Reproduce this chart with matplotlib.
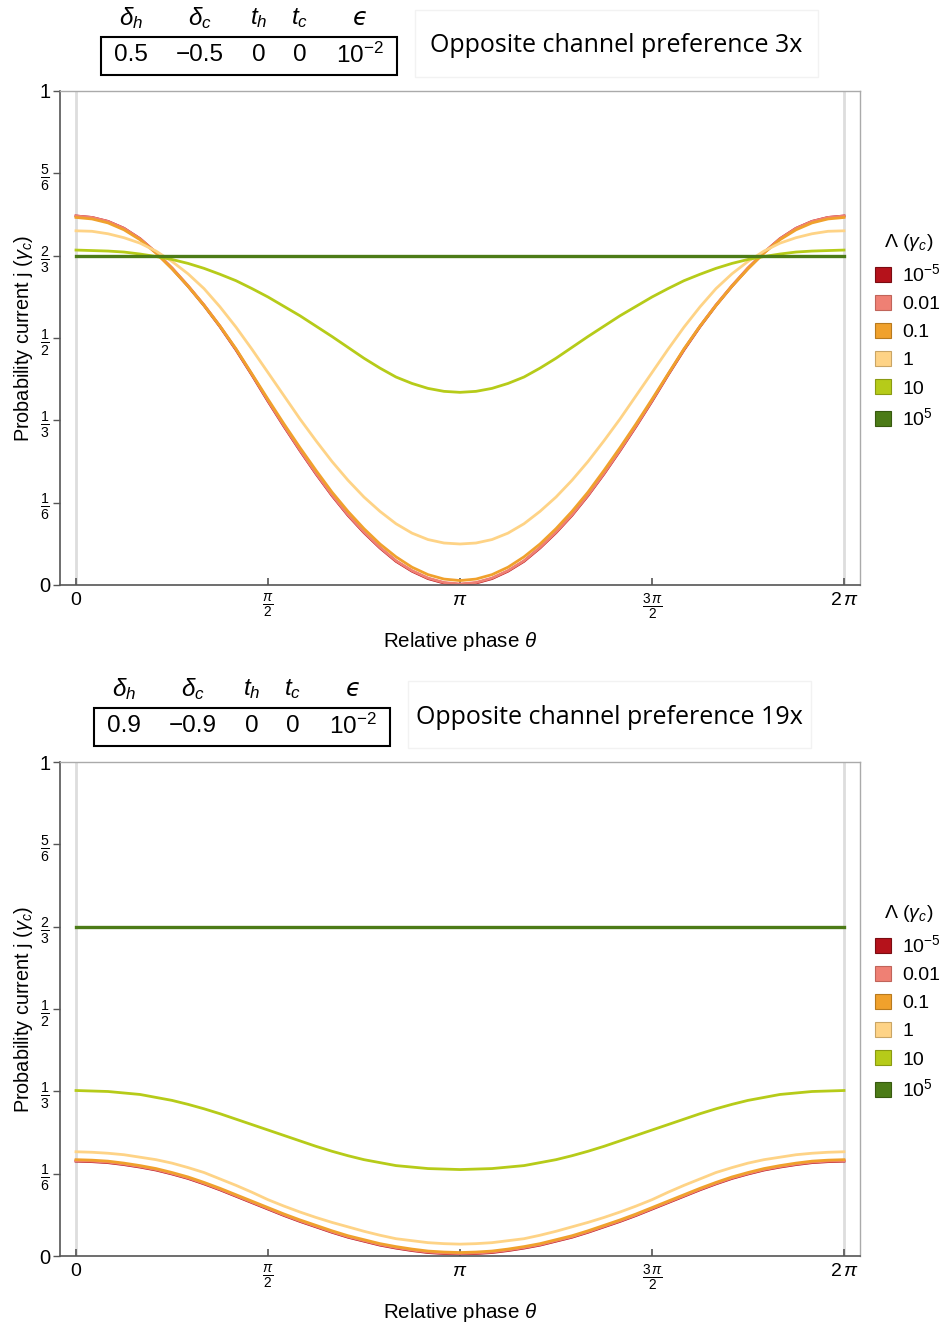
import numpy as np
import matplotlib
matplotlib.use("Agg")
import matplotlib.pyplot as plt
from matplotlib.patches import Patch, Rectangle

plt.rcParams['font.family'] = ['Liberation Sans', 'DejaVu Sans']
plt.rcParams['mathtext.fontset'] = 'custom'
plt.rcParams['mathtext.rm'] = 'Liberation Sans'
plt.rcParams['mathtext.it'] = 'Liberation Sans:italic'
plt.rcParams['mathtext.bf'] = 'Liberation Sans:bold'

# phase samples (degrees), every 7.5 deg
theta_deg = [0, 7.5, 15, 22.5, 30, 37.5, 45, 52.5, 60, 67.5, 75, 82.5, 90, 97.5, 105, 112.5,
             120, 127.5, 135, 142.5, 150, 157.5, 165, 172.5, 180, 187.5, 195, 202.5, 210,
             217.5, 225, 232.5, 240, 247.5, 255, 262.5, 270, 277.5, 285, 292.5, 300, 307.5,
             315, 322.5, 330, 337.5, 345, 352.5, 360]

# Lambda values (legend) and colours
lam_labels = ['$10^{-5}$', '0.01', '0.1', '1', '10', '$10^{5}$']
lam_colors = ['#b5121b', '#ef8074', '#f0a12c', '#fed386', '#b6cb19', '#4c7b17']
lam_edges = ['#7a0c12', '#c0645a', '#b87a1e', '#c9a565', '#8a9a12', '#37590f']

# top panel: delta = 0.5 / -0.5
top_red = [0.747, 0.744, 0.736, 0.722, 0.701, 0.673, 0.641, 0.605, 0.566, 0.523, 0.476, 0.425,
           0.372, 0.321, 0.272, 0.225, 0.181, 0.141, 0.106, 0.075, 0.048, 0.028, 0.013, 0.004,
           0.001, 0.004, 0.013, 0.028, 0.048, 0.075, 0.106, 0.141, 0.181, 0.225, 0.272, 0.321,
           0.372, 0.425, 0.476, 0.523, 0.566, 0.605, 0.641, 0.673, 0.701, 0.722, 0.736, 0.744, 0.747]
top_salmon = [0.747, 0.744, 0.736, 0.722, 0.701, 0.673, 0.642, 0.606, 0.567, 0.524, 0.477, 0.426,
              0.373, 0.322, 0.273, 0.226, 0.182, 0.142, 0.107, 0.076, 0.049, 0.029, 0.014, 0.005,
              0.002, 0.005, 0.014, 0.029, 0.049, 0.076, 0.107, 0.142, 0.182, 0.226, 0.273, 0.322,
              0.373, 0.426, 0.477, 0.524, 0.567, 0.606, 0.642, 0.673, 0.701, 0.722, 0.736, 0.744, 0.747]
top_orange = [0.744, 0.741, 0.733, 0.719, 0.699, 0.672, 0.640, 0.605, 0.566, 0.524, 0.478, 0.427,
              0.376, 0.326, 0.278, 0.232, 0.188, 0.149, 0.114, 0.083, 0.057, 0.036, 0.021, 0.012,
              0.009, 0.012, 0.021, 0.036, 0.057, 0.083, 0.114, 0.149, 0.188, 0.232, 0.278, 0.326,
              0.376, 0.427, 0.478, 0.524, 0.566, 0.605, 0.640, 0.672, 0.699, 0.719, 0.733, 0.741, 0.744]
top_light = [0.717, 0.716, 0.711, 0.703, 0.692, 0.676, 0.655, 0.630, 0.600, 0.563, 0.522, 0.477,
             0.430, 0.383, 0.336, 0.292, 0.250, 0.212, 0.178, 0.149, 0.124, 0.105, 0.092, 0.085,
             0.083, 0.085, 0.092, 0.105, 0.124, 0.149, 0.178, 0.212, 0.250, 0.292, 0.336, 0.383,
             0.430, 0.477, 0.522, 0.563, 0.600, 0.630, 0.655, 0.676, 0.692, 0.703, 0.711, 0.716, 0.717]
top_yg = [0.678, 0.677, 0.676, 0.674, 0.670, 0.665, 0.659, 0.651, 0.641, 0.629, 0.616, 0.600,
          0.583, 0.564, 0.545, 0.524, 0.503, 0.481, 0.459, 0.439, 0.421, 0.408, 0.398, 0.392,
          0.390, 0.392, 0.398, 0.408, 0.421, 0.439, 0.459, 0.481, 0.503, 0.524, 0.545, 0.564,
          0.583, 0.600, 0.616, 0.629, 0.641, 0.651, 0.659, 0.665, 0.670, 0.674, 0.676, 0.677, 0.678]
top_green = [0.667, 0.667, 0.667, 0.667, 0.667, 0.667, 0.667, 0.667, 0.667, 0.667, 0.667, 0.667,
             0.667, 0.667, 0.667, 0.667, 0.667, 0.667, 0.667, 0.667, 0.667, 0.667, 0.667, 0.667,
             0.667, 0.667, 0.667, 0.667, 0.667, 0.667, 0.667, 0.667, 0.667, 0.667, 0.667, 0.667,
             0.667, 0.667, 0.667, 0.667, 0.667, 0.667, 0.667, 0.667, 0.667, 0.667, 0.667, 0.667, 0.667]

# bottom panel: delta = 0.9 / -0.9
bot_red = [0.192, 0.191, 0.189, 0.185, 0.180, 0.174, 0.166, 0.157, 0.146, 0.134, 0.121, 0.108,
           0.095, 0.082, 0.070, 0.059, 0.048, 0.038, 0.030, 0.022, 0.016, 0.011, 0.007, 0.005,
           0.004, 0.005, 0.007, 0.011, 0.016, 0.022, 0.030, 0.038, 0.048, 0.059, 0.070, 0.082,
           0.095, 0.108, 0.121, 0.134, 0.146, 0.157, 0.166, 0.174, 0.180, 0.185, 0.189, 0.191, 0.192]
bot_salmon = [0.193, 0.192, 0.190, 0.186, 0.181, 0.175, 0.167, 0.158, 0.147, 0.135, 0.122, 0.109,
              0.096, 0.083, 0.071, 0.060, 0.049, 0.039, 0.031, 0.023, 0.017, 0.012, 0.008, 0.006,
              0.005, 0.006, 0.008, 0.012, 0.017, 0.023, 0.031, 0.039, 0.049, 0.060, 0.071, 0.083,
              0.096, 0.109, 0.122, 0.135, 0.147, 0.158, 0.167, 0.175, 0.181, 0.186, 0.190, 0.192, 0.193]
bot_orange = [0.195, 0.194, 0.192, 0.188, 0.183, 0.177, 0.169, 0.160, 0.149, 0.137, 0.124, 0.111,
              0.098, 0.085, 0.073, 0.062, 0.051, 0.041, 0.033, 0.025, 0.019, 0.014, 0.010, 0.008,
              0.007, 0.008, 0.010, 0.014, 0.019, 0.025, 0.033, 0.041, 0.051, 0.062, 0.073, 0.085,
              0.098, 0.111, 0.124, 0.137, 0.149, 0.160, 0.169, 0.177, 0.183, 0.188, 0.192, 0.194, 0.195]
bot_light = [0.211, 0.210, 0.208, 0.205, 0.200, 0.195, 0.188, 0.179, 0.169, 0.156, 0.143, 0.129,
             0.114, 0.101, 0.089, 0.078, 0.068, 0.059, 0.050, 0.042, 0.035, 0.031, 0.027, 0.025,
             0.024, 0.025, 0.027, 0.031, 0.035, 0.042, 0.050, 0.059, 0.068, 0.078, 0.089, 0.101,
             0.114, 0.129, 0.143, 0.156, 0.169, 0.179, 0.188, 0.195, 0.200, 0.205, 0.208, 0.210, 0.211]
bot_yg = [0.335, 0.334, 0.333, 0.330, 0.327, 0.321, 0.315, 0.307, 0.298, 0.288, 0.277, 0.266,
          0.255, 0.244, 0.233, 0.222, 0.212, 0.203, 0.195, 0.189, 0.183, 0.180, 0.177, 0.176,
          0.175, 0.176, 0.177, 0.180, 0.183, 0.189, 0.195, 0.203, 0.212, 0.222, 0.233, 0.244,
          0.255, 0.266, 0.277, 0.288, 0.298, 0.307, 0.315, 0.321, 0.327, 0.330, 0.333, 0.334, 0.335]
bot_green = top_green

# parameter tables
param_names = [r'$\delta_h$', r'$\delta_c$', r'$t_h$', r'$t_c$', '\u03f5']
top_params = ['0.5', '\u22120.5', '0', '0', '$10^{-2}$']
bot_params = ['0.9', '\u22120.9', '0', '0', '$10^{-2}$']
top_title = 'Opposite channel preference 3x'
bot_title = 'Opposite channel preference 19x'

x_ticks = [0, np.pi / 2, np.pi, 3 * np.pi / 2, 2 * np.pi]
x_ticklabels = ['0', r'$\frac{\pi}{2}$', r'$\pi$', r'$\frac{3\,\pi}{2}$', r'$2\,\pi$']
y_ticks = [0, 1 / 6, 1 / 3, 1 / 2, 2 / 3, 5 / 6, 1]
y_ticklabels = ['0', r'$\frac{1}{6}$', r'$\frac{1}{3}$', r'$\frac{1}{2}$', r'$\frac{2}{3}$', r'$\frac{5}{6}$', '1']

W, H = 951, 1327
fig = plt.figure(figsize=(W / 100, H / 100), dpi=100)
theta = np.radians(theta_deg)


def fx(px):
    return px / W


def fy(py):
    return 1 - py / H


def panel(top_px, series, params, title, dx, dy):
    ax = fig.add_axes([fx(60), fy(top_px + 494), fx(800), 494 / H])
    ax.axvline(0, color='#dddddd', lw=2, zorder=0)
    ax.axvline(2 * np.pi, color='#dddddd', lw=2, zorder=0)
    for ys, c in zip(series, lam_colors):
        ax.plot(theta, ys, color=c, lw=2.0 if c != '#4c7b17' else 2.4)
    ax.set_xlim(-0.1309, 2 * np.pi + 0.1309)
    ax.set_ylim(0, 1)
    ax.set_xticks(x_ticks)
    ax.set_xticklabels(x_ticklabels, fontsize=14)
    ax.set_yticks(y_ticks)
    ax.set_yticklabels(y_ticklabels, fontsize=14.5)
    ax.tick_params(axis='x', direction='in', length=5, width=1.2, color='#555555', pad=5)
    ax.tick_params(axis='y', direction='out', length=5, width=1.0, color='#555555', pad=2)
    for s in ['left', 'bottom']:
        ax.spines[s].set_color('#555555')
        ax.spines[s].set_linewidth(1.2)
    for s in ['top', 'right']:
        ax.spines[s].set_color('#aaaaaa')
        ax.spines[s].set_linewidth(1.0)
    ax.set_ylabel(r'Probability current j ($\gamma_c$)', fontsize=14.3, labelpad=3)
    ax.set_xlabel(r'Relative phase $\theta$', fontsize=14.8, labelpad=6)

    handles = [Patch(facecolor=c, edgecolor=e, lw=0.8) for c, e in zip(lam_colors, lam_edges)]
    ax.legend(handles, lam_labels, title=r'$\Lambda$ ($\gamma_c$)', title_fontsize=14, fontsize=14,
              loc='upper left', bbox_to_anchor=(1.019, 0.714), frameon=False, borderaxespad=0,
              borderpad=0, handlelength=0.8, handleheight=0.8, handletextpad=0.6, labelspacing=0.51)

    # parameter table
    cols = [131, 200, 259, 300, 360]
    for cx, name, val in zip(cols, param_names, params):
        if name.startswith('$'):
            fig.text(fx(cx + dx), fy(18 + dy), name, fontsize=17.5, ha='center', va='center')
        else:
            fig.text(fx(cx + dx), fy(18 + dy), name, fontsize=17.5, ha='center', va='center',
                     family='DejaVu Sans', style='italic')
        fig.text(fx(cx + dx), fy(55 + dy), val, fontsize=17.5, ha='center', va='center')
    fig.patches.append(Rectangle((fx(101 + dx), fy(75 + dy)), fx(296), 38 / H, fill=False,
                                 edgecolor='black', lw=1.5, transform=fig.transFigure, figure=fig))
    fig.patches.append(Rectangle((fx(415 + dx), fy(77 + dy)), fx(403), 67 / H, fill=False,
                                 edgecolor='#f2f2f2', lw=1.0, transform=fig.transFigure, figure=fig))
    fig.text(fx(616 + dx), fy(46 + dy), title, fontsize=18, family='Open Sans', ha='center', va='center')
    return ax


panel(91, [top_red, top_salmon, top_orange, top_light, top_yg, top_green], top_params, top_title, 0, 0)
panel(762, [bot_red, bot_salmon, bot_orange, bot_light, bot_yg, bot_green], bot_params, bot_title, -7, 671)

fig.savefig('out.png', dpi=100)
